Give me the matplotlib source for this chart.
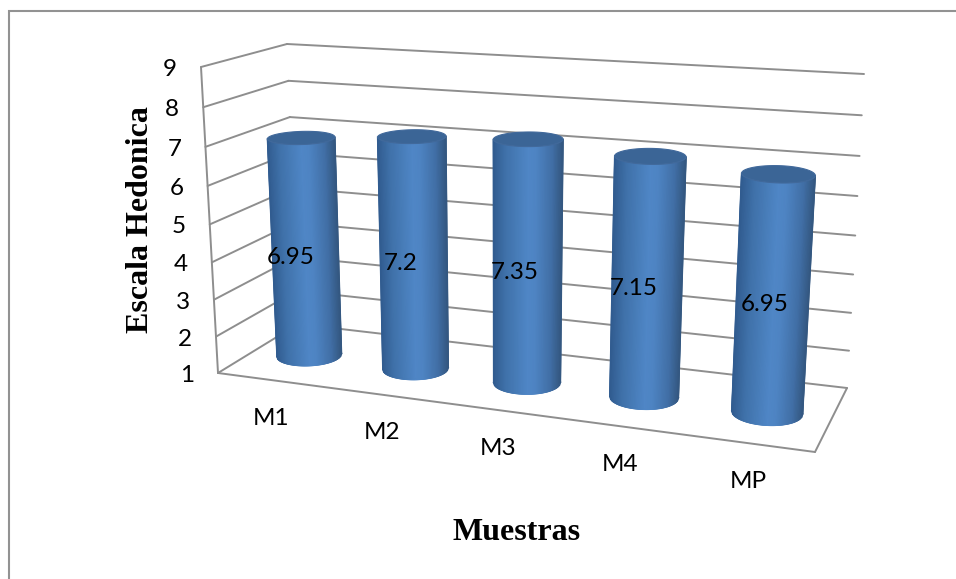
import numpy as np
import matplotlib
matplotlib.use("Agg")
import matplotlib.pyplot as plt
from matplotlib.collections import LineCollection
from matplotlib.colors import LinearSegmentedColormap

# Chart data
categories = ["M1", "M2", "M3", "M4", "MP"]
values = [6.95, 7.2, 7.35, 7.15, 6.95]
value_ticks = [1, 2, 3, 4, 5, 6, 7, 8, 9]
x_title = "Muestras"
y_title = "Escala Hedonica"

W, H = 956, 579
GRID = "#8e8e8e"
BORDER = "#929292"
VMIN, VMAX = 1, 9

# Corners of the 3D plot box on the canvas, as (x, y)
FRONT_LEFT_LOW, FRONT_LEFT_HIGH = (218, 373), (201, 67)
BACK_LEFT_LOW, BACK_LEFT_HIGH = (298, 324), (287, 44)
FRONT_RIGHT_LOW, FRONT_RIGHT_HIGH = (815, 452), (836, 109)
BACK_RIGHT_LOW, BACK_RIGHT_HIGH = (847, 388), (864, 74)
FORESHORTEN_U = 0.885
FORESHORTEN_Z = 0.944


def project(u, d, v):
    """Map category position u (0-1), depth d (0 front, 1 back) and value v to the canvas."""
    u = np.asarray(u, dtype=float)
    d = np.asarray(d, dtype=float)
    z = (np.asarray(v, dtype=float) - VMIN) / (VMAX - VMIN)
    s = FORESHORTEN_U * u / (1 - u + FORESHORTEN_U * u)
    z = FORESHORTEN_Z * z / (1 - z + FORESHORTEN_Z * z)

    def blend(i):
        low = ((1 - s) * (1 - d) * FRONT_LEFT_LOW[i] + (1 - s) * d * BACK_LEFT_LOW[i]
               + s * (1 - d) * FRONT_RIGHT_LOW[i] + s * d * BACK_RIGHT_LOW[i])
        high = ((1 - s) * (1 - d) * FRONT_LEFT_HIGH[i] + (1 - s) * d * BACK_LEFT_HIGH[i]
                + s * (1 - d) * FRONT_RIGHT_HIGH[i] + s * d * BACK_RIGHT_HIGH[i])
        return (1 - z) * low + z * high

    return blend(0), blend(1)


def segment(ax, a, b):
    xa, ya = project(*a)
    xb, yb = project(*b)
    ax.plot([xa, xb], [ya, yb], color=GRID, lw=1.4, solid_capstyle="round", zorder=1)


def cylinder(ax, uc, value):
    dc, ru, rd = 0.5, 0.055, 0.2
    theta = np.linspace(np.pi - 0.9, 2 * np.pi + 0.9, 1441)
    shade = np.linspace(0, 1, 61)

    def front_arc(level):
        # Sample the visible half of the ring at even horizontal steps
        x, y = project(uc + ru * np.cos(theta), dc + rd * np.sin(theta), level)
        i, j = np.argmin(x), np.argmax(x)
        xs = x[i] + shade * (x[j] - x[i])
        return xs, np.interp(xs, x[i:j + 1], y[i:j + 1])

    xb, yb = front_arc(VMIN)
    xt, yt = front_arc(value)
    ax.pcolormesh(np.vstack([xb, xt]), np.vstack([yb, yt]), np.vstack([shade, shade]),
                  cmap=BODY, vmin=0, vmax=1, shading="gouraud", zorder=3)

    # Smooth silhouette drawn over the mesh edges
    pts = np.column_stack([xb, yb])
    rim = LineCollection(np.stack([pts[:-1], pts[1:]], axis=1), colors=BODY(shade[:-1]),
                         linewidths=1.2, zorder=3, capstyle="round")
    ax.add_collection(rim)
    ax.plot([xb[0], xt[0]], [yb[0], yt[0]], color=BODY(0.0), lw=1.0, zorder=3)
    ax.plot([xb[-1], xt[-1]], [yb[-1], yt[-1]], color=BODY(1.0), lw=1.0, zorder=3)

    full = np.linspace(0, 2 * np.pi, 200)
    xc, yc = project(uc + ru * np.cos(full), dc + rd * np.sin(full), value)
    ax.fill(xc, yc, facecolor="#3b6596", edgecolor="#41699b", lw=0.8, zorder=4)


BODY = LinearSegmentedColormap.from_list(
    "cylinder",
    [(0.0, "#315c90"), (0.18, "#4072aa"), (0.5, "#4f86c6"), (0.62, "#4e84c3"),
     (0.85, "#416fa6"), (1.0, "#345881")],
)

plt.rcParams["font.family"] = ["Lato", "DejaVu Sans"]
fig = plt.figure(figsize=(W / 100, H / 100), dpi=100, facecolor="white")
ax = fig.add_axes([0, 0, 1, 1])
ax.set_xlim(0, W)
ax.set_ylim(H, 0)
ax.axis("off")

# Outer chart frame: only the top and left edges fall inside the canvas
ax.plot([9.5, 9.5, W], [H, 10.5, 10.5], color=BORDER, lw=1.5, solid_joinstyle="miter", zorder=1)

# Walls and floor
for v in value_ticks:
    segment(ax, (0, 1, v), (1, 1, v))
    segment(ax, (0, 0, v), (0, 1, v))
segment(ax, (0, 0, VMIN), (0, 0, VMAX))
segment(ax, (0, 0, VMIN), (1, 0, VMIN))
segment(ax, (1, 0, VMIN), (1, 1, VMIN))

n = len(categories)
centres = [(i + 0.5) / n for i in range(n)]

for uc, val in zip(centres, values):
    cylinder(ax, uc, val)

# Value axis labels follow the slanted front edge
for v in value_ticks:
    x, y = project(0, 0, v)
    ax.text(x - 31, y + 2.5, str(v), fontsize=17.5, ha="center", va="center", color="black", zorder=6)

# Category labels sit below the front floor edge
for uc, name in zip(centres, categories):
    x, y = project(uc, 0, VMIN)
    ax.text(x, y + 38, name, fontsize=17.5, ha="center", va="center", color="black", zorder=6)

# Value labels on the cylinders, set slightly left of each axis
label_shift = [-15, -13, -13, -13, -8]
for uc, val, dx in zip(centres, values, label_shift):
    x, y = project(uc, 0.5, (val + VMIN) / 2)
    ax.text(x + dx, y + 9, f"{val:g}", fontsize=17.5, ha="center", va="center", color="black", zorder=6)

ax.text(517, 532, x_title, fontsize=23, fontweight="bold", family="Liberation Serif",
        ha="center", va="center", color="black", zorder=6)
ax.text(141, 220, y_title, fontsize=23, fontweight="bold", family="Liberation Serif",
        rotation=90, ha="center", va="center", color="black", zorder=6)

fig.savefig("out.png", dpi=100, facecolor="white")
